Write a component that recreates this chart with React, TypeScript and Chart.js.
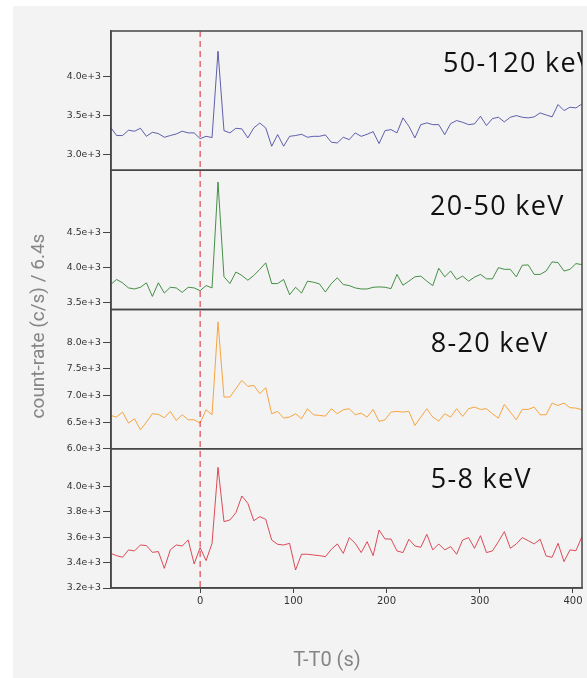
import React, { useEffect, useRef } from 'react';
import { Chart, registerables } from 'chart.js';

Chart.register(...registerables);

// Time bins (s, relative to T0), 6.4 s binning
const TIMES = [
  -96, -89.6, -83.2, -76.8, -70.4, -64, -57.6, -51.2, -44.8, -38.4, -32, -25.6, -19.2, -12.8, -6.4,
  0, 6.4, 12.8, 19.2, 25.6, 32, 38.4, 44.8, 51.2, 57.6, 64, 70.4, 76.8, 83.2, 89.6, 96, 102.4,
  108.8, 115.2, 121.6, 128, 134.4, 140.8, 147.2, 153.6, 160, 166.4, 172.8, 179.2, 185.6, 192,
  198.4, 204.8, 211.2, 217.6, 224, 230.4, 236.8, 243.2, 249.6, 256, 262.4, 268.8, 275.2, 281.6,
  288, 294.4, 300.8, 307.2, 313.6, 320, 326.4, 332.8, 339.2, 345.6, 352, 358.4, 364.8, 371.2,
  377.6, 384, 390.4, 396.8, 403.2, 409.6,
];

const BAND_LABELS = ['50-120 keV', '20-50 keV', '8-20 keV', '5-8 keV'];

const RATE_50_120 = [
  3346, 3240, 3240, 3308, 3295, 3333, 3230, 3282, 3265, 3218, 3240, 3260, 3295, 3274, 3274,
  3200, 3230, 3214, 4320, 3303, 3274, 3333, 3325, 3210, 3338, 3400, 3338, 3103, 3252, 3103,
  3230, 3240, 3256, 3218, 3230, 3230, 3248, 3154, 3145, 3218, 3188, 3274, 3230, 3256, 3290,
  3137, 3303, 3316, 3274, 3466, 3359, 3210, 3380, 3402, 3380, 3380, 3252, 3393, 3432, 3410,
  3380, 3389, 3487, 3368, 3457, 3474, 3415, 3474, 3496, 3474, 3466, 3479, 3530, 3504, 3479,
  3637, 3560, 3603, 3594, 3645,
];

const RATE_20_50 = [
  3755, 3827, 3779, 3707, 3692, 3716, 3779, 3586, 3779, 3634, 3716, 3707, 3644, 3716, 3707,
  3668, 3740, 3707, 5212, 3865, 3769, 3933, 3884, 3817, 3884, 3971, 4063, 3769, 3769, 3827,
  3610, 3716, 3634, 3803, 3788, 3764, 3649, 3769, 3851, 3755, 3740, 3707, 3692, 3692, 3716,
  3721, 3716, 3697, 3899, 3745, 3803, 3865, 3875, 3803, 3740, 3986, 3865, 3947, 3827, 3875,
  3803, 3860, 3899, 3836, 3836, 3995, 3971, 3971, 3865, 4029, 4034, 3899, 3899, 3947, 4077,
  4067, 3947, 3971, 4053, 4038,
];

const RATE_8_20 = [
  6625, 6594, 6688, 6481, 6563, 6356, 6500, 6657, 6644, 6582, 6701, 6531, 6638, 6544, 6544,
  6481, 6732, 6638, 8381, 6970, 6970, 7127, 7284, 7171, 7190, 7033, 7146, 6657, 6701, 6575,
  6594, 6657, 6563, 6751, 6638, 6625, 6613, 6751, 6657, 6732, 6751, 6638, 6669, 6594, 6738,
  6513, 6544, 6688, 6701, 6688, 6701, 6437, 6594, 6751, 6594, 6519, 6657, 6594, 6751, 6607,
  6751, 6782, 6738, 6751, 6657, 6575, 6832, 6688, 6544, 6738, 6738, 6782, 6638, 6638, 6857,
  6813, 6857, 6770, 6763, 6732,
];

const RATE_5_8 = [
  3473, 3455, 3442, 3500, 3492, 3539, 3534, 3481, 3487, 3355, 3500, 3539, 3531, 3578, 3390,
  3518, 3416, 3552, 4150, 3723, 3736, 3793, 3925, 3867, 3730, 3762, 3741, 3578, 3544, 3539,
  3552, 3342, 3466, 3466, 3460, 3455, 3447, 3505, 3547, 3473, 3597, 3552, 3479, 3565, 3455,
  3657, 3586, 3586, 3492, 3479, 3584, 3531, 3521, 3623, 3500, 3547, 3500, 3526, 3466, 3578,
  3597, 3513, 3612, 3479, 3492, 3565, 3644, 3513, 3547, 3597, 3573, 3547, 3584, 3452, 3442,
  3552, 3408, 3500, 3494, 3605,
];

const TICKS_50_120 = [3000, 3500, 4000];
const TICKS_20_50 = [3500, 4000, 4500];
const TICKS_8_20 = [6000, 6500, 7000, 7500, 8000];
const TICKS_5_8 = [3200, 3400, 3600, 3800, 4000];

const RANGE_50_120 = [2795, 4580];
const RANGE_20_50 = [3400, 5380];
const RANGE_8_20 = [6000, 8613];
const RANGE_5_8 = [3200, 4297];

const X_TICKS = [0, 100, 200, 300, 400];
const X_RANGE = [-95.6, 409.7];
const TRIGGER_TIME = 0;

const Y_TITLE = 'count-rate (c/s) / 6.4s';
const X_TITLE = 'T-T0 (s)';

const COLORS = ['rgba(45,45,150,0.75)', 'rgba(40,125,40,0.85)', 'rgba(245,160,55,0.95)', 'rgba(215,45,60,0.85)'];
const LABEL_POS = [
  { dx: 332, dy: 33.5 },
  { dx: 319, dy: 37.2 },
  { dx: 319.7, dy: 34.4 },
  { dx: 319.7, dy: 31.1 },
];
const Y_IDS = ['y1', 'y2', 'y3', 'y4'];

const W = 574;
const H = 672;

function makeY(range: number[], ticks: number[], weight: number) {
  return {
    type: 'linear',
    position: 'left',
    stack: 'panels',
    stackWeight: 1,
    weight,
    min: range[0],
    max: range[1],
    afterBuildTicks: (s: any) => {
      s.ticks = ticks.map((v) => ({ value: v }));
    },
    afterFit: (s: any) => {
      s.width = 98;
    },
    ticks: {
      autoSkip: false,
      font: { family: 'DejaVu Sans', size: 9.3 },
      color: '#333',
      padding: 2,
      callback: (v: any) => Number(v).toExponential(1),
    },
    grid: { drawOnChartArea: false, drawTicks: true, tickLength: 8, color: '#444', lineWidth: 1 },
    border: { display: true, color: '#444', width: 1.5 },
  };
}

const decorPlugin = {
  id: 'decor',
  afterDatasetsDraw(chart: any) {
    const { ctx, chartArea: ca, scales } = chart;
    ctx.save();
    // trigger line
    const x0 = scales.x.getPixelForValue(TRIGGER_TIME);
    ctx.strokeStyle = '#e0282e';
    ctx.lineWidth = 1;
    ctx.setLineDash([6, 4]);
    ctx.beginPath();
    ctx.moveTo(x0, ca.top);
    ctx.lineTo(x0, ca.bottom);
    ctx.stroke();
    ctx.setLineDash([]);
    // panel frames
    ctx.strokeStyle = '#474747';
    ctx.lineWidth = 1.5;
    Y_IDS.forEach((id) => {
      const s = scales[id];
      ctx.strokeRect(ca.left, s.top, ca.right - ca.left, s.bottom - s.top);
    });
    ctx.restore();

    // band labels (clipped to plot area)
    ctx.save();
    ctx.beginPath();
    ctx.rect(ca.left, ca.top, ca.right - ca.left, ca.bottom - ca.top);
    ctx.clip();
    ctx.font = '27px "Open Sans"';
    try {
      (ctx as any).letterSpacing = '1.3px';
    } catch (e) {
      /* ignore */
    }
    ctx.fillStyle = '#111';
    ctx.textBaseline = 'middle';
    ctx.textAlign = 'left';
    Y_IDS.forEach((id, i) => {
      const s = scales[id];
      ctx.fillText(BAND_LABELS[i], ca.left + LABEL_POS[i].dx, s.top + LABEL_POS[i].dy);
    });
    ctx.restore();

    // axis titles
    ctx.save();
    ctx.fillStyle = '#858585';
    ctx.textAlign = 'center';
    ctx.textBaseline = 'middle';
    ctx.font = '20px Roboto';
    ctx.fillText(X_TITLE, 314, 655);
    ctx.translate(26, 320);
    ctx.rotate(-Math.PI / 2);
    ctx.font = '19px Roboto';
    ctx.fillText(Y_TITLE, 0, 0);
    ctx.restore();
  },
};

export default function App() {
  const ref = useRef<HTMLCanvasElement | null>(null);

  useEffect(() => {
    if (!ref.current) return;
    const series = [RATE_50_120, RATE_20_50, RATE_8_20, RATE_5_8];
    const chart = new Chart(ref.current, {
      type: 'line',
      data: {
        datasets: series.map((arr, i) => ({
          label: BAND_LABELS[i],
          data: TIMES.map((t, j) => ({ x: t, y: arr[j] })),
          xAxisID: 'x',
          yAxisID: Y_IDS[i],
          borderColor: COLORS[i],
          borderWidth: 1,
          pointRadius: 0,
          tension: 0,
          fill: false,
        })),
      },
      options: {
        animation: false,
        responsive: false,
        events: [],
        layout: { padding: { top: 25, right: 5, left: 0, bottom: 0 } },
        plugins: { legend: { display: false }, tooltip: { enabled: false }, title: { display: false } },
        scales: {
          x: {
            type: 'linear',
            position: 'bottom',
            min: X_RANGE[0],
            max: X_RANGE[1],
            afterBuildTicks: (s: any) => {
              s.ticks = X_TICKS.map((v) => ({ value: v }));
            },
            afterFit: (s: any) => {
              s.height = 90;
            },
            ticks: {
              autoSkip: false,
              maxRotation: 0,
              font: { family: 'DejaVu Sans', size: 10 },
              color: '#333',
              padding: 2,
            },
            grid: { drawOnChartArea: false, drawTicks: true, tickLength: 5, color: '#444' },
            border: { display: true, color: '#444', width: 1.5 },
          },
          y1: makeY(RANGE_50_120, TICKS_50_120, 4),
          y2: makeY(RANGE_20_50, TICKS_20_50, 3),
          y3: makeY(RANGE_8_20, TICKS_8_20, 2),
          y4: makeY(RANGE_5_8, TICKS_5_8, 1),
        } as any,
      },
      plugins: [decorPlugin],
    } as any);
    return () => chart.destroy();
  }, []);

  return (
    <div style={{ position: 'fixed', left: 13, top: 6, width: W, height: H, background: '#f3f3f3' }}>
      <canvas ref={ref} width={W} height={H} style={{ display: 'block', width: W, height: H }} />
    </div>
  );
}
